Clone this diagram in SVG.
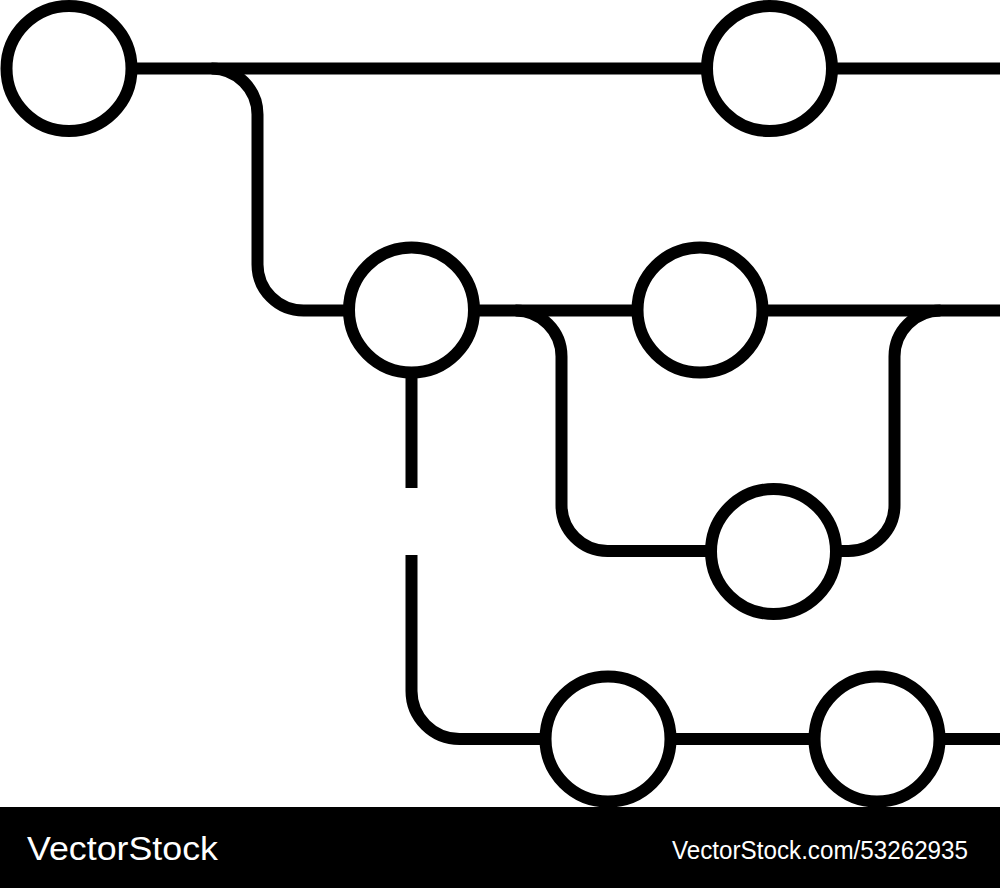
<svg xmlns="http://www.w3.org/2000/svg" width="1000" height="888" viewBox="0 0 1000 888">
<style>
.ln{fill:none;stroke:#000;stroke-width:12;stroke-linecap:butt;stroke-linejoin:round}
.nd{fill:#fff;stroke:#000;stroke-width:12}
.wm{fill:#fff;font-family:"Liberation Sans",Arial,sans-serif}
</style>
<rect width="1000" height="888" fill="#fff"/>
<g id="connectors">
<path class="ln" d="M69 68.5 H1000"/>
<path class="ln" d="M211.5 68.5 A46 46 0 0 1 257.5 114.5 V264.5 A46 46 0 0 0 303.5 310.5 H411.5"/>
<path class="ln" d="M411.5 310.5 H1000"/>
<path class="ln" d="M515.5 310.5 A46 46 0 0 1 561.5 356.5 V505 A46 46 0 0 0 607.5 551 H773"/>
<path class="ln" d="M773 551 H848.5 A46 46 0 0 0 894.5 505 V356.5 A46 46 0 0 1 940.5 310.5"/>
<path class="ln" d="M411.5 310.5 V488"/>
<path class="ln" d="M411.5 555 V691 A48 48 0 0 0 459.5 739 H1000"/>
</g>
<g id="node1"><circle class="nd" cx="69" cy="68.5" r="62.5"/></g>
<g id="node2"><circle class="nd" cx="769.5" cy="68.5" r="62.5"/></g>
<g id="node3"><circle class="nd" cx="411.5" cy="310" r="62.5"/></g>
<g id="node4"><circle class="nd" cx="700" cy="310" r="62.5"/></g>
<g id="node5"><circle class="nd" cx="773.5" cy="551.5" r="62.5"/></g>
<g id="node6"><circle class="nd" cx="608" cy="739" r="62.5"/></g>
<g id="node7"><circle class="nd" cx="877" cy="739" r="62.5"/></g>
<g id="watermark">
<rect x="0" y="807" width="1000" height="81" fill="#000"/>
<text class="wm" x="27" y="860" font-size="33.5" textLength="191" lengthAdjust="spacingAndGlyphs">VectorStock</text>
<text class="wm" x="672" y="859" font-size="26" textLength="296" lengthAdjust="spacingAndGlyphs">VectorStock.com/53262935</text>
</g>
</svg>
